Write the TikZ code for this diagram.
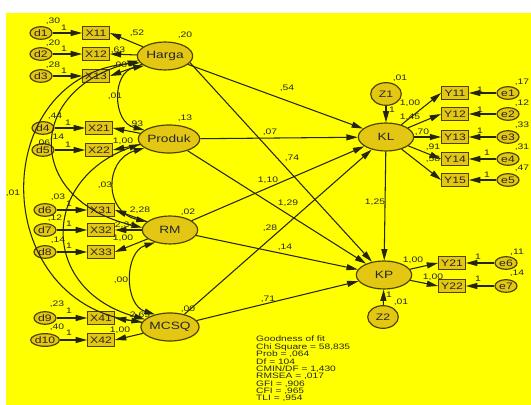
\documentclass[tikz,border=0pt]{standalone}
\usepackage{fontspec}
\setmainfont{Liberation Sans}[FakeStretch=1.3]
\usetikzlibrary{shapes.geometric,arrows.meta}
\definecolor{bgy}{HTML}{FFFF00}
\definecolor{nfill}{HTML}{E3C712}
\definecolor{bord}{HTML}{4D4200}
\definecolor{lnc}{HTML}{262610}
\definecolor{txt}{HTML}{262626}
\begin{document}
\begin{tikzpicture}[x=0.03cm,y=-0.03cm,
  every node/.style={text=txt},
  obs/.style={draw=bord,fill=nfill,line width=1pt,minimum width=0.8cm,minimum height=0.38cm,inner sep=0pt,font=\fontsize{8}{9}\selectfont},
  err/.style={ellipse,draw=bord,fill=nfill,line width=1pt,minimum width=0.66cm,minimum height=0.38cm,inner sep=0pt,font=\fontsize{8}{9}\selectfont},
  lat/.style={ellipse,draw=bord,fill=nfill,line width=1pt,minimum width=1.66cm,minimum height=0.84cm,inner sep=0pt,font=\fontsize{9}{10}\selectfont},
  dist/.style={ellipse,draw=bord,fill=nfill,line width=1pt,minimum width=0.92cm,minimum height=0.68cm,inner sep=0pt,font=\fontsize{8}{9}\selectfont},
  lbl/.style={font=\fontsize{6.8}{7.5}\selectfont,inner sep=0pt},
  arr/.style={draw=lnc,line width=0.9pt,-{Triangle[length=3.4mm,width=1.8mm]}},
  cov/.style={draw=lnc,line width=0.9pt,{Triangle[length=3.2mm,width=1.7mm]}-{Triangle[length=3.2mm,width=1.7mm]}},
]
\useasboundingbox (0,0) rectangle (531,405);
\fill[white] (0,0) rectangle (531,405);
\fill[bgy] (6,13) rectangle (531,405);

% left indicators
\node[err] (d1) at (41,33) {d1};
\node[err] (d2) at (41,54) {d2};
\node[err] (d3) at (41,76) {d3};
\node[obs] (X11) at (96,33) {X11};
\node[obs] (X12) at (96,54) {X12};
\node[obs] (X13) at (96,76) {X13};
\node[lat] (Harga) at (165,56) {Harga};

\node[err] (d4) at (43,128) {d4};
\node[err] (d5) at (43,150) {d5};
\node[obs] (X21) at (99,128) {X21};
\node[obs] (X22) at (99,150) {X22};
\node[lat] (Produk) at (169,139) {Produk};

\node[err] (d6) at (45,210) {d6};
\node[err] (d7) at (45,230) {d7};
\node[err] (d8) at (45,252) {d8};
\node[obs] (X31) at (101,210) {X31};
\node[obs] (X32) at (101,230) {X32};
\node[obs] (X33) at (101,252) {X33};
\node[lat] (RM) at (170,230) {RM};

\node[err] (d9) at (45,318) {d9};
\node[err] (d10) at (45,340) {d10};
\node[obs] (X41) at (101,318) {X41};
\node[obs] (X42) at (101,340) {X42};
\node[lat] (MCSQ) at (170,327) {MCSQ};

% right side
\node[dist] (Z1) at (386,94) {Z1};
\node[lat] (KL) at (386,137) {KL};
\node[obs] (Y11) at (455,93) {Y11};
\node[obs] (Y12) at (455,114) {Y12};
\node[obs] (Y13) at (455,137) {Y13};
\node[obs] (Y14) at (455,159) {Y14};
\node[obs] (Y15) at (455,180) {Y15};
\node[err] (e1) at (508,93) {e1};
\node[err] (e2) at (508,114) {e2};
\node[err] (e3) at (508,137) {e3};
\node[err] (e4) at (508,159) {e4};
\node[err] (e5) at (508,180) {e5};

\node[lat] (KP) at (384,275) {KP};
\node[dist] (Z2) at (383,317) {Z2};
\node[obs] (Y21) at (452,263) {Y21};
\node[obs] (Y22) at (452,286) {Y22};
\node[err] (e6) at (506,263) {e6};
\node[err] (e7) at (506,286) {e7};

% covariances
\draw[cov] (Harga.205) .. controls (112,72) and (112,122) .. (Produk.160);
\draw[cov] (Produk.200) .. controls (104,160) and (104,212) .. (RM.160);
\draw[cov] (RM.220) .. controls (124,252) and (124,305) .. (MCSQ.140);
\draw[cov] (Harga.195) .. controls (-12,75) and (-12,300) .. (MCSQ.170);
\draw[cov] (Harga.190) .. controls (25,90) and (25,200) .. (RM.175);
\draw[cov] (Produk.190) .. controls (40,180) and (40,290) .. (MCSQ.163);

% error -> indicator
\foreach \a/\b in {d1/X11,d2/X12,d3/X13,d4/X21,d5/X22,d6/X31,d7/X32,d8/X33,d9/X41,d10/X42}
  \draw[arr] (\a) -- (\b);
\foreach \a/\b in {e1/Y11,e2/Y12,e3/Y13,e4/Y14,e5/Y15,e6/Y21,e7/Y22}
  \draw[arr] (\a) -- (\b);

% latent -> indicators
\draw[arr] (Harga) -- (X11.east);
\draw[arr] (Harga) -- (X12.east);
\draw[arr] (Harga) -- (X13.east);
\draw[arr] (Produk) -- (X21.east);
\draw[arr] (Produk) -- (X22.east);
\draw[arr] (RM) -- (X31.east);
\draw[arr] (RM) -- (X32.east);
\draw[arr] (RM) -- (X33.east);
\draw[arr] (MCSQ) -- (X41.east);
\draw[arr] (MCSQ) -- (X42.east);
\foreach \y in {Y11,Y12,Y13,Y14,Y15}
  \draw[arr] (KL) -- (\y.west);
\draw[arr] (KP) -- (Y21.west);
\draw[arr] (KP) -- (Y22.west);

% structural
\draw[arr] (Harga) -- (KL);
\draw[arr] (Harga.-15) -- (KP);
\draw[arr] (Produk) -- (KL);
\draw[arr] (Produk) -- (KP);
\draw[arr] (RM) -- (KL);
\draw[arr] (RM) -- (KP);
\draw[arr] (MCSQ) -- (KL);
\draw[arr] (MCSQ) -- (KP);
\draw[arr] (KL) -- (KP);
\draw[arr] (Z1) -- (KL);
\draw[arr] (Z2) -- (KP);

% labels: left variances and fixed paths
\node[lbl] (l1) at (53,21) {,30};  \node[lbl] (l2) at (64,28) {1};
\node[lbl] (l3) at (53,43) {,20};  \node[lbl] (l4) at (64,49) {1};
\node[lbl] (l5) at (53,65) {,28};  \node[lbl] (l6) at (64,71) {1};
\node[lbl] (l7) at (55,116) {,44}; \node[lbl] (l8) at (68,123) {1};
\node[lbl] (l9) at (57,137) {,14}; \node[lbl] (l10) at (43,143) {,06}; \node[lbl] (l11) at (68,145) {1};
\node[lbl] (l12) at (58,197) {,03}; \node[lbl] (l13) at (69,204) {1};
\node[lbl] (l14) at (55,218) {,12}; \node[lbl] (l15) at (69,224) {1};
\node[lbl] (l16) at (58,240) {,14}; \node[lbl] (l17) at (69,246) {1};
\node[lbl] (l18) at (57,304) {,23}; \node[lbl] (l19) at (69,311) {1};
\node[lbl] (l20) at (57,327) {,40}; \node[lbl] (l21) at (69,333) {1};
% loadings
\node[lbl] (m1) at (137,33) {,52};
\node[lbl] (m2) at (118,50) {,63};
\node[lbl] (m3) at (120,65) {,00};
\node[lbl] (m4) at (136,124) {,93};
\node[lbl] (m5) at (123,141) {1,00};
\node[lbl] (m6) at (140,210) {2,28};
\node[lbl] (m7) at (125,225) {2,34};
\node[lbl] (m8) at (123,238) {1,00};
\node[lbl] (m9) at (140,315) {2,69};
\node[lbl] (m10) at (120,330) {1,00};
% latent variances
\node[lbl] (v1) at (185,35) {,20};
\node[lbl] (v2) at (185,118) {,13};
\node[lbl] (v3) at (188,212) {,02};
\node[lbl] (v4) at (188,309) {,00};
% covariances
\node[lbl] (c1) at (115,96) {,01};
\node[lbl] (c2) at (105,185) {,03};
\node[lbl] (c3) at (121,280) {,00};
\node[lbl] (c4) at (13,193) {,01};
% structural
\node[lbl] (s1) at (287,88) {,54};
\node[lbl] (s2) at (270,132) {,07};
\node[lbl] (s3) at (292,158) {,74};
\node[lbl] (s4) at (268,180) {1,10};
\node[lbl] (s5) at (288,203) {1,29};
\node[lbl] (s6) at (270,228) {,28};
\node[lbl] (s7) at (285,247) {,14};
\node[lbl] (s8) at (268,299) {,71};
\node[lbl] (s9) at (375,202) {1,25};
% right side
\node[lbl] (r1) at (400,78) {,01};
\node[lbl] (r2) at (392,110) {1};
\node[lbl] (r3) at (410,103) {1,00};
\node[lbl] (r4) at (410,117) {1,45};
\node[lbl] (r5) at (422,132) {,70};
\node[lbl] (r6) at (433,147) {,91};
\node[lbl] (r7) at (433,159) {,58};
\node[lbl] (r8) at (480,90) {1};
\node[lbl] (r9) at (480,110) {1};
\node[lbl] (r10) at (480,131) {1};
\node[lbl] (r11) at (487,153) {1};
\node[lbl] (r12) at (487,175) {1};
\node[lbl] (r13) at (522,82) {,17};
\node[lbl] (r14) at (522,103) {,12};
\node[lbl] (r15) at (522,125) {,33};
\node[lbl] (r16) at (522,147) {,31};
\node[lbl] (r17) at (522,168) {,47};
\node[lbl] (k1) at (413,260) {1,00};
\node[lbl] (k2) at (433,277) {1,00};
\node[lbl] (k3) at (478,257) {1};
\node[lbl] (k4) at (478,279) {1};
\node[lbl] (k5) at (517,252) {,11};
\node[lbl] (k6) at (517,273) {,14};
\node[lbl] (k7) at (389,295) {1};
\node[lbl] (k8) at (401,302) {,01};

% goodness of fit
\node[anchor=north west,align=left,inner sep=0pt,font=\fontsize{6.7}{6.3}\selectfont] (gof) at (256,336)
  {Goodness of fit\\Chi Square = 58,835\\Prob = ,064\\Df = 104\\CMIN/DF = 1,430\\RMSEA = ,017\\GFI = ,906\\CFI = ,965\\TLI = ,954};
\end{tikzpicture}
\end{document}
